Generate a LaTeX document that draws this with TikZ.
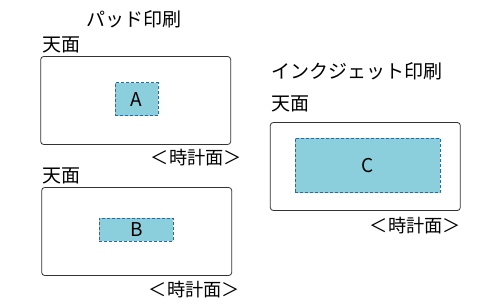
\documentclass[tikz,border=0pt]{standalone}
\usepackage{fontspec}
\setmainfont{Noto Sans CJK JP}
\usepackage{xcolor}
\usepackage{tikz}
\definecolor{areafill}{HTML}{8CCFDC}
\definecolor{arealine}{HTML}{2868B0}
\definecolor{faceline}{HTML}{333333}

\begin{document}
\begin{tikzpicture}[x=1pt, y=-1pt,
  face/.style={rectangle, draw=faceline, rounded corners=3pt, line width=0.8pt, minimum width=190pt, minimum height=88pt, inner sep=0pt},
  area/.style={rectangle, draw=arealine, fill=areafill, dash pattern=on 3pt off 2pt, line width=0.7pt, inner sep=0pt, font=\fontsize{19}{22}\selectfont},
  lbl/.style={inner sep=0pt, font=\fontsize{19}{22}\selectfont},
  clock/.style={inner sep=0pt, anchor=east, font=\fontsize{18.2}{22}\selectfont}]
\useasboundingbox (0,0) rectangle (500,307);

% pad printing
\node[lbl] (padtitle) at (134,19) {パッド印刷};
\node[face] (face1) at (135.7,100.5) {};
\node[area, minimum width=43pt, minimum height=33pt] (areaA) at (136.6,99.2) {A};
\node[lbl, anchor=west] (top1) at (42,45) {天面};
\node[clock] (clock1) at (242,158) {＜時計面＞};

\node[face] (face2) at (136.7,231.5) {};
\node[area, minimum width=74pt, minimum height=23pt] (areaB) at (136.3,229.5) {B};
\node[lbl, anchor=west] (top2) at (42,176) {天面};
\node[clock] (clock2) at (240,290) {＜時計面＞};

% inkjet printing
\node[lbl, anchor=west] (inktitle) at (271,71) {インクジェット印刷};
\node[face] (face3) at (365.3,166.5) {};
\node[area, minimum width=145pt, minimum height=54pt] (areaC) at (367.5,165.5) {C};
\node[lbl, anchor=west] (top3) at (271,104) {天面};
\node[clock] (clock3) at (461,226) {＜時計面＞};
\end{tikzpicture}
\end{document}
